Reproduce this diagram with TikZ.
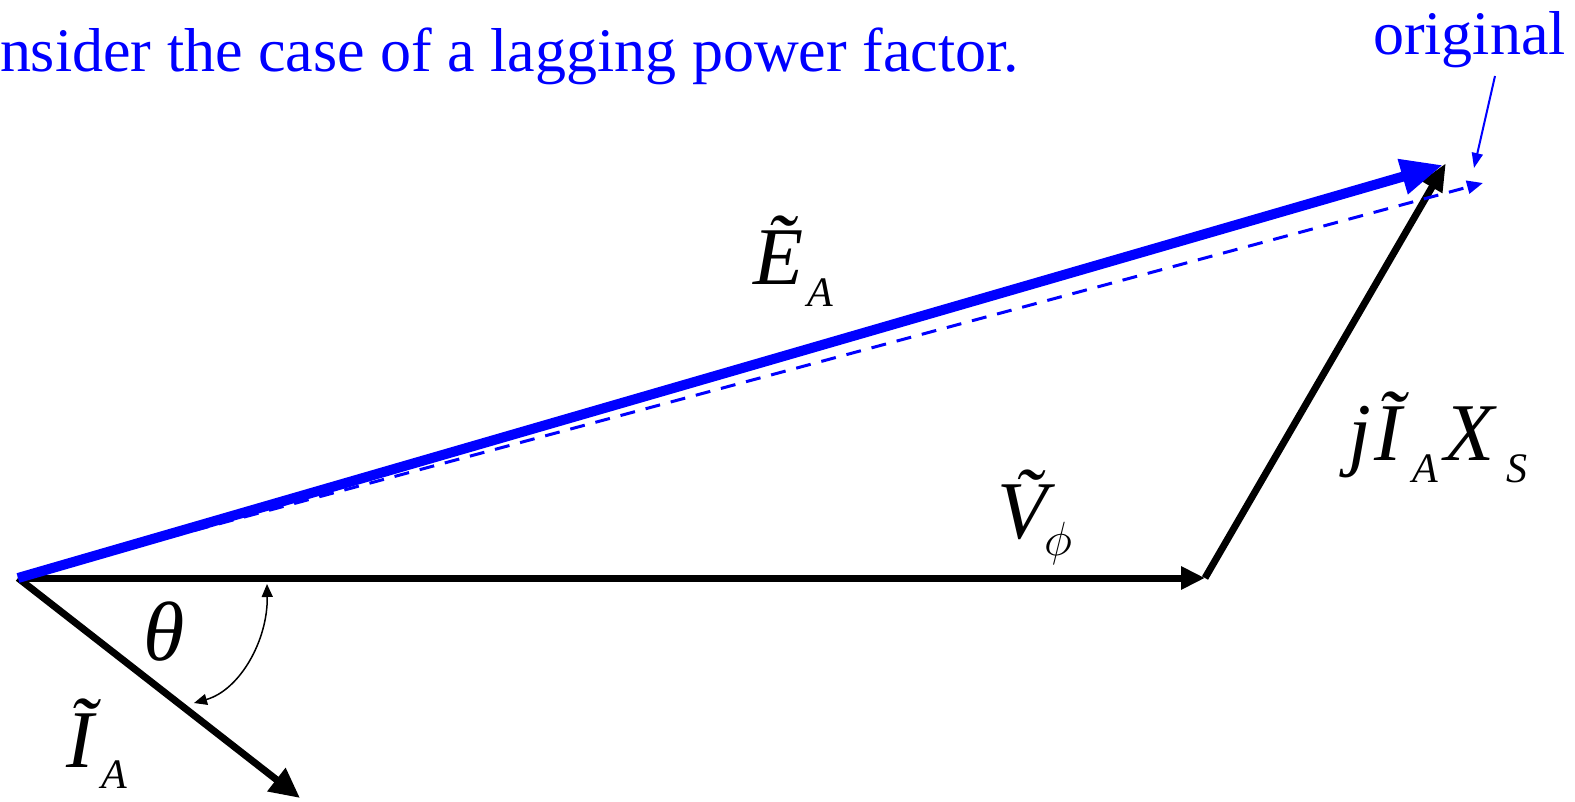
\RequirePackage{fix-cm}
\documentclass[tikz,border=0pt]{standalone}
\usepackage{fontspec}
\setmainfont{Liberation Serif}
\usetikzlibrary{arrows.meta}
\newcommand\fs[1]{\fontsize{#1}{#1}\selectfont}
\begin{document}
\begin{tikzpicture}[x=1pt,y=-1pt,
  lbl/.style={anchor=base west,inner sep=0pt,outer sep=0pt},
  vec/.style={line width=7pt,-{Triangle[length=24pt,width=22pt]}},
  evec/.style={blue,line width=10pt,-{Triangle[length=42pt,width=34pt]}},
  dvec/.style={blue,line width=3pt,dash pattern=on 15pt off 11pt,-{Triangle[length=16pt,width=13pt]}},
  pointer/.style={blue,line width=2pt,-{Triangle[length=15pt,width=11pt]}},
  anglearc/.style={line width=1.5pt,{Triangle[length=13pt,width=11pt]}-{Triangle[length=13pt,width=11pt]}}]
\useasboundingbox (0,0) rectangle (1575,802);
% points
\coordinate (O) at (18,578);
\coordinate (V) at (1205,578);
\coordinate (J) at (1446,163);
\coordinate (E) at (1443,165);
\coordinate (D) at (1483,183);
\coordinate (I) at (300,798);
\coordinate (ArcA) at (267,584);
\coordinate (ArcB) at (194,703);
\coordinate (PtA) at (1495,76);
\coordinate (PtB) at (1474,168);
% vectors
\draw[vec] (O) -- (V);
\draw[vec,-{Triangle[length=28pt,width=22pt]}] (V) -- (J);
\draw[vec,-{Triangle[length=30pt,width=28pt]}] (O) -- (I);
\draw[dvec] (O) -- (D);
\draw[evec] (O) -- (E);
\draw[anglearc] (ArcA) .. controls (268,640) and (240,690) .. (ArcB);
\draw[pointer] (PtA) -- (PtB);
% texts
\node[lbl,text=blue] (title) at (0,72) {\fs{62}nsider the case of a lagging power factor.};
\node[lbl,text=blue] (orig) at (1373,55) {\fs{62}original};
\node[lbl] (EA) at (753,285) {\fs{82}\itshape\makebox[54pt][l]{Ẽ}\raisebox{-22pt}{\fs{42}A}};
\node[lbl] (Vphi) at (997,538) {\fs{82}\itshape\makebox[47pt][l]{Ṽ}\raisebox{-17pt}{\fs{48}$\phi$}};
\node[lbl] (JIX) at (1348,460) {\fs{82}\itshape\makebox[26pt][l]{j}\makebox[38pt][l]{Ĩ}\makebox[32pt][l]{\raisebox{-22pt}{\fs{42}A}}\makebox[62pt][l]{X}\raisebox{-22pt}{\fs{42}S}};
\node[lbl] (IA) at (66,767) {\fs{82}\itshape\makebox[35pt][l]{Ĩ}\raisebox{-21pt}{\fs{42}A}};
\node[lbl] (th) at (143,660) {\fs{84}\itshape θ};
\end{tikzpicture}
\end{document}
